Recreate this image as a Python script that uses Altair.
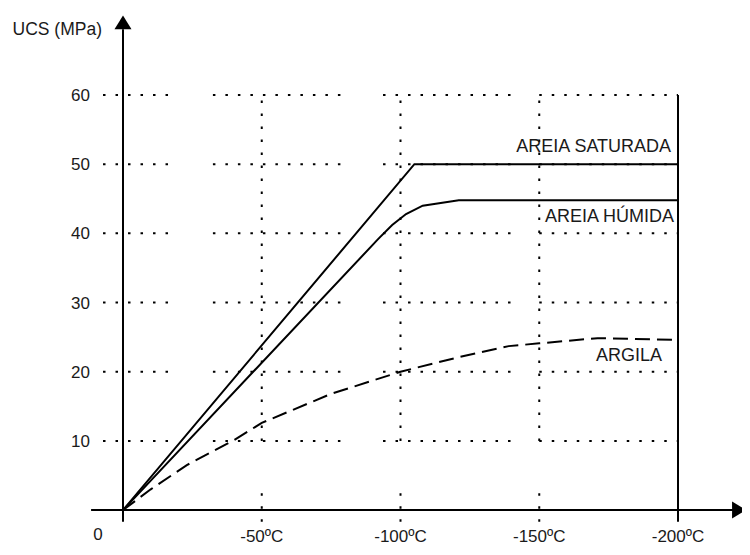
import altair as alt
import pandas as pd

# ---------------- data ----------------
temp_saturada = [0, -105, -200]
ucs_saturada = [0, 50, 50]

temp_humida = [0, -92, -97, -102, -108, -121, -200]
ucs_humida = [0, 39.2, 41.2, 42.8, 44.0, 44.8, 44.8]

temp_argila = [0, -10, -23, -40, -50, -75, -100, -121, -139, -150, -171, -200]
ucs_argila = [0, 3.0, 6.5, 10.1, 12.6, 16.8, 20.0, 22.1, 23.7, 24.1, 24.85, 24.6]

series_names = ["AREIA SATURADA", "AREIA HÚMIDA", "ARGILA"]
label_temp = [-197.5, -198.6, -194.2]
label_ucs = [51.7, 41.7, 21.6]

x_ticks = [-50, -100, -150, -200]
x_tick_labels = ["-50ºC", "-100ºC", "-150ºC", "-200ºC"]
y_ticks = [10, 20, 30, 40, 50, 60]
y_tick_labels = ["10", "20", "30", "40", "50", "60"]

# dotted grid pieces (temperature / UCS units)
grid_h_from = [7.2, -32.4, -93.7, -150]
grid_h_to = [-19.8, -81.1, -142.3, -200]
grid_v_x = [-50, -100, -150]
grid_v_from = [10, -1.7]
grid_v_to = [60, 3.9]

x_axis_from, x_axis_to = 11.5, -222.0
y_axis_from, y_axis_to = -1.7, 69.5
frame_x = -200

FONT = "Liberation Sans"

# ---------------- scales ----------------
xs = alt.Scale(domain=[-223.06, 41.44], reverse=True, nice=False, zero=False)
ys = alt.Scale(domain=[-5.34, 72.58], nice=False, zero=False)

def X(f):
    return alt.X(f, type="quantitative", scale=xs, axis=None)

def Y(f):
    return alt.Y(f, type="quantitative", scale=ys, axis=None)

# grid tables
gh = pd.DataFrame([{"y": y, "x1": a, "x2": b} for y in y_ticks for a, b in zip(grid_h_from, grid_h_to)])
gv = pd.DataFrame([{"x": x, "y1": a, "y2": b} for x in grid_v_x for a, b in zip(grid_v_from, grid_v_to)])

grid_h = alt.Chart(gh).mark_rule(color="black", strokeWidth=2, strokeDash=[2.5, 10]).encode(
    x=X("x1"), x2="x2", y=Y("y"))
grid_v = alt.Chart(gv).mark_rule(color="black", strokeWidth=2, strokeDash=[2.5, 10.5]).encode(
    y=Y("y1"), y2="y2", x=X("x"))

axes_df = pd.DataFrame({
    "x1": [x_axis_from, 0, frame_x],
    "x2": [x_axis_to, 0, frame_x],
    "y1": [0, y_axis_from, y_axis_from],
    "y2": [0, y_axis_to, 60],
})
axes = alt.Chart(axes_df).mark_rule(color="black", strokeWidth=2).encode(
    x=X("x1"), x2="x2", y=Y("y1"), y2="y2")

arrow_up = alt.Chart(pd.DataFrame({"x": [0], "y": [70.5]})).mark_point(
    shape="M-1,0.82L0,-0.82L1,0.82Z", size=289, filled=True, color="black", opacity=1
).encode(x=X("x"), y=Y("y"))
arrow_right = alt.Chart(pd.DataFrame({"x": [-222.0], "y": [0]})).mark_point(
    shape="M-0.82,-1L0.82,0L-0.82,1Z", size=289, filled=True, color="black", opacity=1
).encode(x=X("x"), y=Y("y"))

sat = alt.Chart(pd.DataFrame({"t": temp_saturada, "u": ucs_saturada, "i": range(len(temp_saturada))})).mark_line(
    color="black", strokeWidth=2).encode(x=X("t"), y=Y("u"), order="i:Q")
hum = alt.Chart(pd.DataFrame({"t": temp_humida, "u": ucs_humida, "i": range(len(temp_humida))})).mark_line(
    color="black", strokeWidth=2).encode(x=X("t"), y=Y("u"), order="i:Q")
arg = alt.Chart(pd.DataFrame({"t": temp_argila, "u": ucs_argila, "i": range(len(temp_argila))})).mark_line(
    color="black", strokeWidth=2, strokeDash=[15, 7]).encode(x=X("t"), y=Y("u"), order="i:Q")

labels = alt.Chart(pd.DataFrame({"t": label_temp, "u": label_ucs, "s": series_names})).mark_text(
    align="right", baseline="alphabetic", font=FONT, fontSize=18, color="#1a1a1a"
).encode(x=X("t"), y=Y("u"), text="s:N")

xt = alt.Chart(pd.DataFrame({"t": x_ticks, "u": [0] * 4, "s": x_tick_labels})).mark_text(
    align="center", baseline="alphabetic", dy=32, font=FONT, fontSize=17, color="#1a1a1a"
).encode(x=X("t"), y=Y("u"), text="s:N")

yt = alt.Chart(pd.DataFrame({"t": [0] * 6, "u": y_ticks, "s": y_tick_labels})).mark_text(
    align="right", baseline="middle", dx=-33, dy=1, font=FONT, fontSize=17, color="#1a1a1a"
).encode(x=X("t"), y=Y("u"), text="s:N")

zero = alt.Chart(pd.DataFrame({"t": [0], "u": [0], "s": ["0"]})).mark_text(
    align="center", baseline="alphabetic", dx=-25, dy=30, font=FONT, fontSize=17, color="#1a1a1a"
).encode(x=X("t"), y=Y("u"), text="s:N")

ytitle = alt.Chart(pd.DataFrame({"t": [0], "u": [y_axis_to], "s": ["UCS (MPa)"]})).mark_text(
    align="right", baseline="alphabetic", dx=-21, dy=6, font=FONT, fontSize=17.5, color="#1a1a1a"
).encode(x=X("t"), y=Y("u"), text="s:N")

chart = alt.layer(
    grid_h, grid_v, axes, arrow_up, arrow_right, sat, hum, arg, labels, xt, yt, zero, ytitle
).properties(
    width=734, height=539, padding=0,
    autosize=alt.AutoSizeParams(type="none"),
    background="white",
).configure_view(stroke=None)

chart.save("out.html", embed_options={"renderer": "svg", "actions": False})
